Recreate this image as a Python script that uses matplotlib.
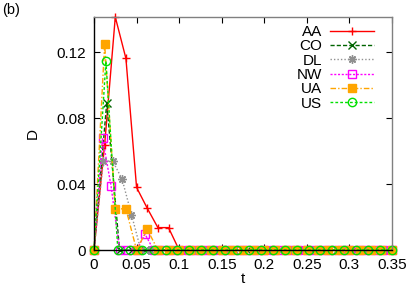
import numpy as np
import matplotlib
matplotlib.use("Agg")
import matplotlib.pyplot as plt

plt.rcParams["font.family"] = ["Liberation Sans", "DejaVu Sans"]

labels = ["AA", "CO", "DL", "NW", "UA", "US"]
steps = [0.0125, 0.015, 0.011, 0.01, 0.0125, 0.014]
# non-zero start of each series, the rest is 0 up to t = 0.35
heads = [
    [0, 0.064, 0.1415, 0.1163, 0.038, 0.0254, 0.0136, 0.0136],
    [0, 0.0895],
    [0, 0.054, 0.054, 0.043, 0.0215],
    [0, 0.068, 0.039, 0, 0, 0, 0.0096],
    [0, 0.1253, 0.025, 0.025, 0, 0.0126],
    [0, 0.1147],
]
colors = ["#ff0000", "#006400", "#909090", "#ff00ff", "#ffa500", "#00e000"]
markers = ["+", "x", (8, 2, 0), "s", "s", "o"]
styles = ["-", (0, (3, 1.5)), (0, (1, 1.5)), (0, (1.5, 1.2)), (0, (4, 1.5, 1, 1.5)), (0, (2, 1.5))]
fills = [True, True, True, False, True, False]

fig = plt.figure(figsize=(4.15, 2.91), dpi=100)
ax = fig.add_axes([94 / 415, 41 / 291, 298 / 415, 233 / 291])

for i in range(len(labels)):
    n = int(round(0.35 / steps[i])) + 1
    t = np.arange(n) * steps[i]
    t = t[t <= 0.3505]
    d = heads[i] + [0] * (len(t) - len(heads[i]))
    mfc = colors[i] if fills[i] else "none"
    ax.plot(t, d, color=colors[i], linestyle=styles[i], linewidth=1,
            marker=markers[i], markersize=6, markerfacecolor=mfc,
            markeredgecolor=colors[i], markeredgewidth=1, label=labels[i],
            clip_on=False)

ax.set_xlim(0, 0.35)
ax.set_ylim(0, 0.1415)
ax.set_xticks([0, 0.05, 0.1, 0.15, 0.2, 0.25, 0.3, 0.35])
ax.set_xticklabels(["0", "0.05", "0.1", "0.15", "0.2", "0.25", "0.3", "0.35"])
ax.set_yticks([0, 0.04, 0.08, 0.12])
ax.set_yticklabels(["0", "0.04", "0.08", "0.12"])
ax.tick_params(direction="in", length=4, width=0.8, top=True, right=True,
               labelsize=11, pad=6)
ax.spines["top"].set_color("#808080")
ax.spines["right"].set_color("#808080")
for s in ax.spines.values():
    s.set_linewidth(1)

ax.set_xlabel("t", fontsize=11, labelpad=0)
ax.set_ylabel("D", fontsize=11, labelpad=12)
fig.text(2 / 415, 1 - 10 / 291, "(b)", fontsize=10.5, va="center", ha="left")

ax.legend(loc="upper right", bbox_to_anchor=(374 / 415, 1 - 25 / 291),
          bbox_transform=fig.transFigure, frameon=False, markerfirst=False,
          fontsize=11, handlelength=2.85, handletextpad=0.55,
          labelspacing=0.02, borderpad=0, borderaxespad=0)

fig.savefig("out.png", dpi=100)
